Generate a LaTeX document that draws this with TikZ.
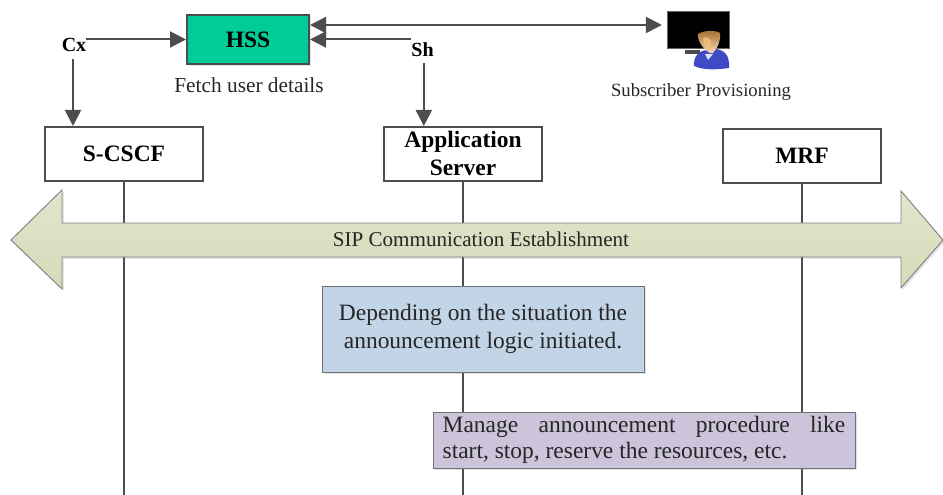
\documentclass[tikz,border=0pt]{standalone}
\usepackage{fontspec}
\setmainfont{Liberation Serif}
\usetikzlibrary{shadows,arrows.meta}
\definecolor{ln}{HTML}{4D4D4D}
\definecolor{hssg}{HTML}{00CC99}
\definecolor{bluebox}{HTML}{C2D5E7}
\definecolor{purplebox}{HTML}{CCC4DA}
\definecolor{bandtop}{HTML}{E0E6CD}
\definecolor{bandbot}{HTML}{D4DBB8}
\definecolor{bodyblue}{HTML}{3F4BC4}
\definecolor{hair}{HTML}{A46C30}
\definecolor{skin}{HTML}{F6C27A}
\tikzset{
  x=0.75pt,y=-0.75pt,
  softshadow/.style={drop shadow={opacity=.22,shadow xshift=1.4pt,shadow yshift=-1.4pt}},
  entity/.style={draw=ln,line width=1.5pt,fill=white,align=center,font=\fontsize{17.6}{21}\selectfont\bfseries,inner sep=0pt},
  link/.style={draw=ln,line width=1.5pt,-{Triangle[length=12pt,width=12pt,fill=ln]}},
  life/.style={draw=ln,line width=1.2pt},
  iface/.style={font=\fontsize{15}{17}\selectfont\bfseries,inner sep=0pt},
  cap text/.style={font=\fontsize{16}{18}\selectfont,text=black!85,inner sep=0pt},
  note/.style={draw=ln!80,line width=0.7pt,softshadow,inner sep=0pt,font=\fontsize{17.6}{20.5}\selectfont,text=black!85},
}
\begin{document}
\begin{tikzpicture}
\useasboundingbox (0,0) rectangle (943,495);
% entities
\node[entity,fill=hssg,minimum width=91.5pt,minimum height=36.5pt,softshadow] (hss) at (248,39.5) {HSS};
\node[entity,minimum width=118.5pt,minimum height=40.5pt] (scscf) at (124,154) {S-CSCF};
\node[entity,minimum width=118.5pt,minimum height=40.5pt] (as) at (463,154) {\raisebox{0.7pt}{Application}\\\raisebox{0.7pt}{Server}};
\node[entity,minimum width=118.5pt,minimum height=40.5pt] (mrf) at (802,156) {MRF};
\coordinate (scscfend) at (124,495);
\coordinate (asend) at (463,495);
\coordinate (mrfend) at (802,495);
\draw[life] (scscf) -- (scscfend);
\draw[life] (as) -- (asend);
\draw[life] (mrf) -- (mrfend);
% band
\path[draw=black!50,line width=0.7pt,top color=bandtop,bottom color=bandbot,softshadow]
  (11,240) -- (62,190) -- (62,223) -- (901,223) -- (901,191) -- (943,240) -- (901,288) -- (901,257) -- (62,257) -- (62,289) -- cycle;
\node[font=\fontsize{15.8}{18}\selectfont,text=black!85,inner sep=0pt] (band) at (481,239) {SIP Communication Establishment};
% notes
\node[note,fill=bluebox,minimum width=241.5pt,minimum height=64.5pt,align=center] (logic) at (483,329) {\raisebox{-0.7pt}{Depending on the situation the}\\\raisebox{-0.7pt}{announcement logic initiated.}};
\node[note,fill=purplebox,minimum width=316.5pt,minimum height=42pt,align=left] (manage) at (644,440) {\raisebox{-1.5pt}{\makebox[302pt][s]{Manage announcement procedure like}}\\\raisebox{-0.5pt}{\makebox[302pt][l]{start, stop, reserve the resources, etc.}}};
% interface labels
\node[iface] (cx) at (74,45) {Cx};
\node[iface] (sh) at (422.5,50) {Sh};
\node[cap text] (fetch) at (249,85) {Fetch user details};
\node[cap text,font=\fontsize{14}{16}\selectfont] (prov) at (701,92) {Subscriber Provisioning};
% icon
\node[fill=black,draw=black!60,line width=0.6pt,minimum width=46.5pt,minimum height=28pt,inner sep=0pt] (screen) at (698,30) {};
\fill[black!70] (685,50) -- (700,50) -- (700,54) -- (685,54) -- cycle;
\fill[bodyblue] (694,66) .. controls (693,56) and (700,50) .. (707,50) -- (716,49) .. controls (724,50) and (730,55) .. (729,68) .. controls (715,70) and (703,70) .. (694,66) -- cycle;
\fill[white!85!bodyblue] (705,54) -- (713,54) -- (708,60) -- cycle;
\shade[top color=hair,bottom color=skin!60!white] (710,53) .. controls (701,48) and (697,38) .. (698,34) .. controls (704,30) and (716,30) .. (720,33) .. controls (721,40) and (718,48) .. (713,53) -- cycle;
\fill[skin,opacity=.8] (703,38) .. controls (707,36) and (711,38) .. (711,43) .. controls (711,47) and (708,49) .. (706,46) .. controls (704,44) and (702,41) .. (703,38) -- cycle;
% connectors
\draw[link] (cx.east |- hss.west) -- (hss.west);
\draw[link] ([xshift=-0.75pt,yshift=-5pt]cx.south) -- ([xshift=-0.75pt]cx.south |- scscf.north);
\draw[link] (sh.west |- hss.east) -- (hss.east);
\draw[link] ([xshift=1pt,yshift=-4.5pt]sh.south) -- ([xshift=1pt]sh.south |- as.north);
\draw[link,{Triangle[length=12pt,width=12pt,fill=ln]}-{Triangle[length=12pt,width=12pt,fill=ln]}] ([yshift=10.875pt]hss.east) -- ([xshift=-3.5pt,yshift=3.75pt]screen.west);
\end{tikzpicture}
\end{document}
